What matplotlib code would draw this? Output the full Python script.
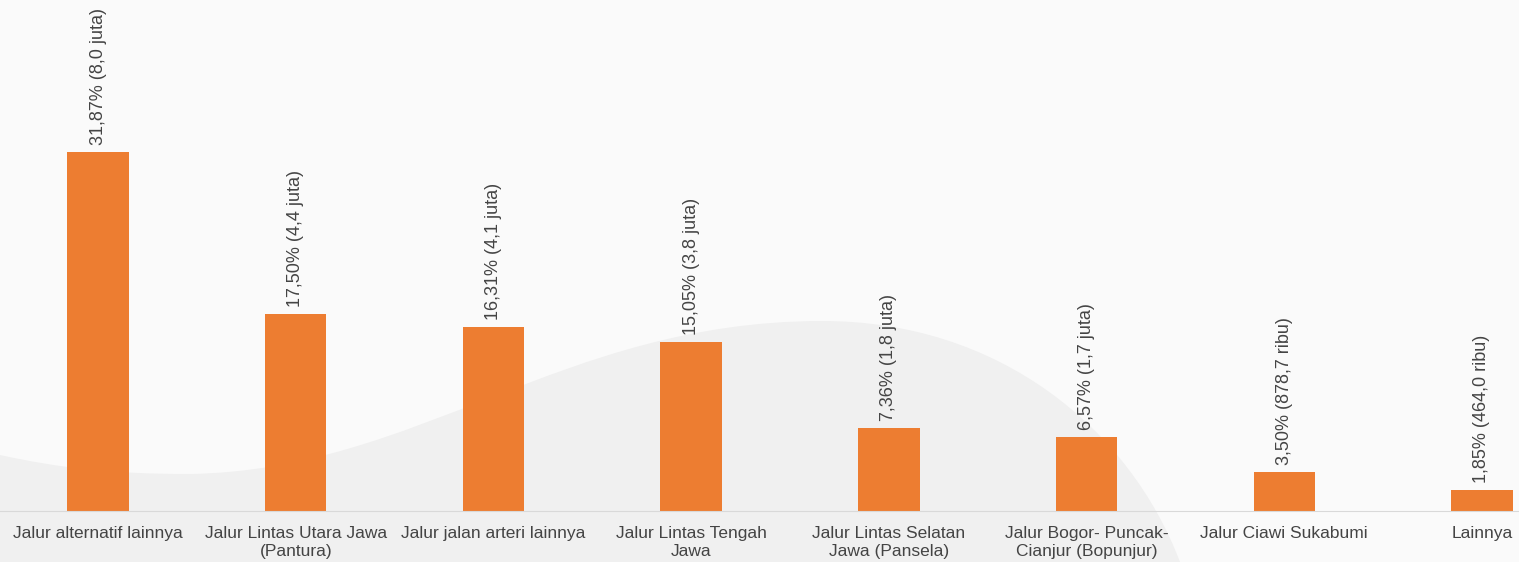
import matplotlib.pyplot as plt
from matplotlib.path import Path
from matplotlib.patches import PathPatch

plt.rcParams['font.family'] = ['Liberation Sans', 'DejaVu Sans']

categories = ['Jalur alternatif lainnya', 'Jalur Lintas Utara Jawa\n(Pantura)',
              'Jalur jalan arteri lainnya', 'Jalur Lintas Tengah\nJawa',
              'Jalur Lintas Selatan\nJawa (Pansela)', 'Jalur Bogor- Puncak-\nCianjur (Bopunjur)',
              'Jalur Ciawi Sukabumi', 'Lainnya']
shares = [31.87, 17.50, 16.31, 15.05, 7.36, 6.57, 3.50, 1.85]
counts = ['8,0 juta', '4,4 juta', '4,1 juta', '3,8 juta', '1,8 juta', '1,7 juta',
          '878,7 ribu', '464,0 ribu']

W, H = 1519, 562
fig = plt.figure(figsize=(W / 100, H / 100), dpi=100, facecolor='#fafafa')

# soft background wave (figure pixels, y from top)
def px(x, y):
    return (x / W, 1 - y / H)

verts = [px(0, 455), px(60, 468), px(110, 474), px(190, 474),
         px(420, 470), px(560, 322), px(820, 321),
         px(1000, 320), px(1130, 430), px(1180, 562),
         px(0, 562), px(0, 455)]
codes = [Path.MOVETO, Path.CURVE4, Path.CURVE4, Path.CURVE4,
         Path.CURVE4, Path.CURVE4, Path.CURVE4,
         Path.CURVE4, Path.CURVE4, Path.CURVE4,
         Path.LINETO, Path.CLOSEPOLY]
fig.patches.append(PathPatch(Path(verts, codes), transform=fig.transFigure,
                             facecolor='#f0f0f0', edgecolor='none', zorder=-5))

ax = fig.add_axes([0, 51 / H, 1, 1 - 51 / H])
ax.set_zorder(2)
ax.set_facecolor('none')
x = range(len(categories))
bars = ax.bar(x, shares, width=0.31, color='#ED7D31', zorder=2)

for xi, s, c in zip(x, shares, counts):
    label = f'{s:.2f}'.replace('.', ',') + f'% ({c})'
    ax.annotate(label, (xi, s), xytext=(0, 5), textcoords='offset points',
                rotation=90, ha='center', va='bottom', fontsize=13, color='#444444')

ax.set_xlim(-98 / 197.7, 7 + 37 / 197.7)
ax.set_ylim(0, 511 / 11.26)
ax.set_xticks(list(x))
ax.set_xticklabels(categories, fontsize=12.5, color='#444444', linespacing=1.25)
ax.tick_params(axis='x', length=0, pad=11)
ax.set_yticks([])
for side in ['top', 'left', 'right']:
    ax.spines[side].set_visible(False)
ax.spines['bottom'].set_color('#d9d9d9')

fig.savefig('out.png', dpi=100, facecolor=fig.get_facecolor())
